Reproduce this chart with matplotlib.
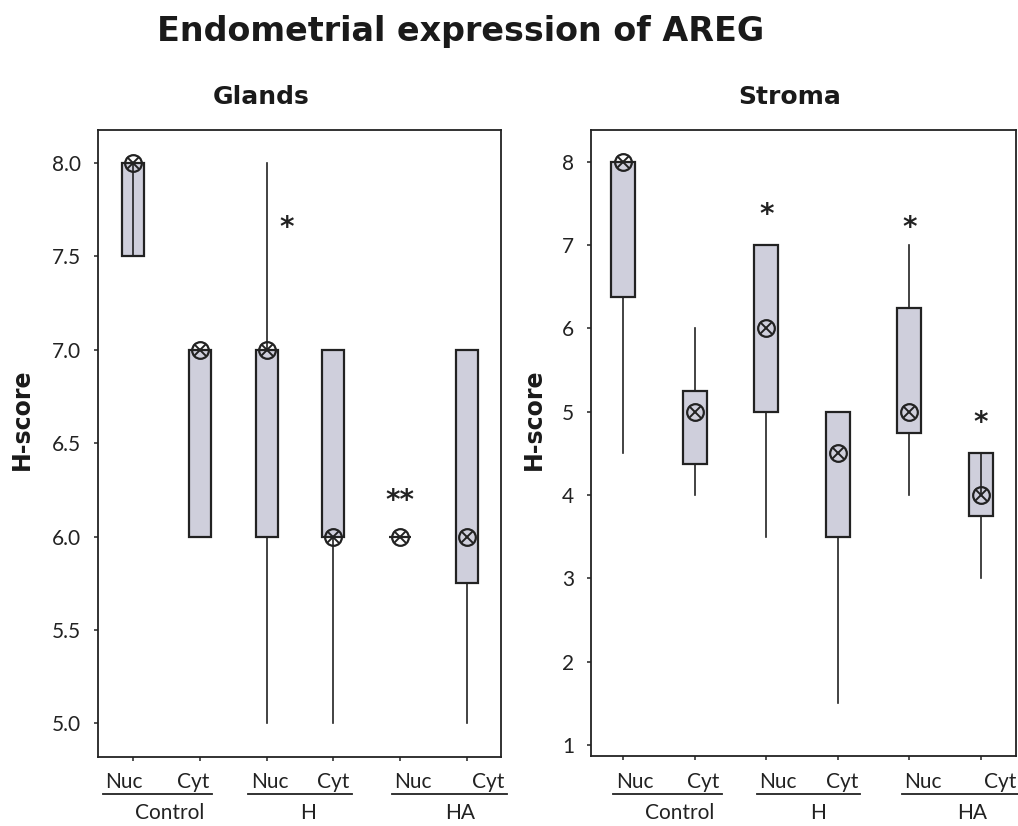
import matplotlib
matplotlib.use("Agg")
import matplotlib.pyplot as plt
from matplotlib.lines import Line2D

# ---------------- data ----------------
positions = [1, 2, 3, 4, 5, 6]
sub_labels = ["Nuc", "Cyt", "Nuc", "Cyt", "Nuc", "Cyt"]
group_labels = ["Control", "H", "HA"]

# Glands
g_q1 = [7.5, 6.0, 6.0, 6.0, 6.0, 5.75]
g_med = [8.0, 7.0, 7.0, 6.0, 6.0, 6.0]
g_q3 = [8.0, 7.0, 7.0, 7.0, 6.0, 7.0]
g_lo = [7.5, 6.0, 5.0, 5.0, 6.0, 5.0]
g_hi = [8.0, 7.0, 8.0, 7.0, 6.0, 7.0]
g_star_x = [3.3, 5.0]
g_star_y = [7.65, 6.19]
g_star_txt = ["*", "**"]
g_inner = [(1, 7.5, 8.0)]

# Stroma
s_q1 = [6.375, 4.375, 5.0, 3.5, 4.75, 3.75]
s_med = [8.0, 5.0, 6.0, 4.5, 5.0, 4.0]
s_q3 = [8.0, 5.25, 7.0, 5.0, 6.25, 4.5]
s_lo = [4.5, 4.0, 3.5, 1.5, 4.0, 3.0]
s_hi = [8.0, 6.0, 7.0, 5.0, 7.0, 4.5]
s_star_x = [3.0, 5.0, 6.0]
s_star_y = [7.36, 7.21, 4.87]
s_star_txt = ["*", "*", "*"]
s_inner = [(6, 4.0, 4.5)]

g_yticks = [5.0, 5.5, 6.0, 6.5, 7.0, 7.5, 8.0]
s_yticks = [1, 2, 3, 4, 5, 6, 7, 8]

# ---------------- figure ----------------
W, H = 1018, 826
fig = plt.figure(figsize=(W / 100, H / 100), dpi=100)
fig.patch.set_facecolor("white")

TICKFONT = "Lato"
BOLDFONT = "DejaVu Sans"
BOXFILL = "#cfcfdc"


def fx(px):
    return px / W


def fy(py):
    return 1 - py / H


def make_axes(l, r, t, b):
    return fig.add_axes([fx(l), fy(b), fx(r) - fx(l), fy(t) - fy(b)])


def draw_panel(ax, q1, med, q3, lo, hi, inner, sx, sy, stxt, yticks, yfmt, xlim, ylim, width):
    stats = []
    for i in range(len(positions)):
        stats.append(dict(q1=q1[i], med=med[i], q3=q3[i], whislo=lo[i], whishi=hi[i],
                          fliers=[], label=sub_labels[i]))
    ax.bxp(stats, positions=positions, widths=width, patch_artist=True, showcaps=False,
           showfliers=False,
           boxprops=dict(facecolor=BOXFILL, edgecolor="#222222", linewidth=1.6),
           whiskerprops=dict(color="#222222", linewidth=1.2),
           medianprops=dict(linewidth=0, color="none"))
    for (p, y0, y1) in inner:
        ax.plot([p, p], [y0, y1], color="#222222", lw=1.2, zorder=3)
    ax.plot(positions, med, linestyle="none", marker="o", ms=12, mfc="none",
            mec="#222222", mew=1.6, zorder=5)
    ax.plot(positions, med, linestyle="none", marker="x", ms=8,
            mec="#222222", mew=1.4, zorder=5)
    for x, y, t in zip(sx, sy, stxt):
        ax.text(x, y, t, ha="center", va="center", fontsize=20, fontweight="bold",
                family=BOLDFONT, color="#222222")
    ax.set_xlim(*xlim)
    ax.set_ylim(*ylim)
    ax.set_yticks(yticks)
    ax.set_yticklabels([yfmt.format(v) for v in yticks], family=TICKFONT, fontsize=15,
                       color="#222222")
    ax.set_xticks(positions)
    ax.set_xticklabels([""] * len(positions))
    ax.tick_params(axis="both", direction="out", length=3, width=1.2, color="#333333", pad=9)
    for sp in ax.spines.values():
        sp.set_linewidth(1.3)
        sp.set_color("#222222")
    ax.set_facecolor("white")


axL = make_axes(98, 501, 130, 757)
draw_panel(axL, g_q1, g_med, g_q3, g_lo, g_hi, g_inner, g_star_x, g_star_y, g_star_txt,
           g_yticks, "{:.1f}", (0.476, 6.51), (4.82, 8.177), 0.33)

axR = make_axes(591, 1016, 130, 756)
draw_panel(axR, s_q1, s_med, s_q3, s_lo, s_hi, s_inner, s_star_x, s_star_y, s_star_txt,
           s_yticks, "{:d}", (0.55, 6.49), (0.87, 8.38), 0.335)

# titles
fig.text(fx(461), fy(31), "Endometrial expression of AREG", ha="center", va="center",
         fontsize=24, fontweight="bold", family=BOLDFONT, color="#1a1a1a")
fig.text(fx(261), fy(97), "Glands", ha="center", va="center", fontsize=18,
         fontweight="bold", family=BOLDFONT, color="#1a1a1a")
fig.text(fx(790), fy(97), "Stroma", ha="center", va="center", fontsize=18,
         fontweight="bold", family=BOLDFONT, color="#1a1a1a")
fig.text(fx(22), fy(419), "H-score", ha="center", va="center", rotation=90, fontsize=17,
         fontweight="bold", family=BOLDFONT, color="#1a1a1a")
fig.text(fx(534), fy(419), "H-score", ha="center", va="center", rotation=90, fontsize=17,
         fontweight="bold", family=BOLDFONT, color="#1a1a1a")

sub_x = [124, 193, 270, 333, 413, 488, 635, 703, 778, 842, 923, 1000]
grp_x = [170, 308, 460, 680, 818, 972]
line_x = [(103, 212), (248, 352), (392, 507), (613, 722), (757, 860), (902, 1018)]
for i, x in enumerate(sub_x):
    fig.text(fx(x), fy(782), sub_labels[i % 6], ha="center", va="center", fontsize=15,
             family=TICKFONT, color="#222222")
for i, x in enumerate(grp_x):
    fig.text(fx(x), fy(813), group_labels[i % 3], ha="center", va="center", fontsize=15,
             family=TICKFONT, color="#222222")
for (x0, x1) in line_x:
    fig.add_artist(Line2D([fx(x0), fx(x1)], [fy(794), fy(794)], transform=fig.transFigure,
                          color="#222222", lw=1.3))

fig.savefig("out.png", dpi=100, facecolor="white")
